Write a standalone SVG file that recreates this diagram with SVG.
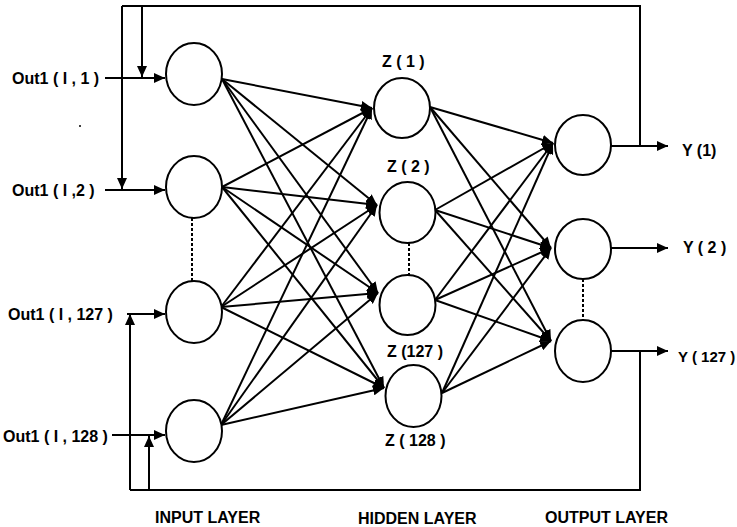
<svg xmlns="http://www.w3.org/2000/svg" width="737" height="527" viewBox="0 0 737 527">
<style>
.n{fill:#fff;stroke:#000;stroke-width:2}
.c{fill:none;stroke:#000;stroke-width:2}
.a{fill:none;stroke:#000;stroke-width:2;marker-end:url(#ah)}
.d{fill:none;stroke:#000;stroke-width:2;stroke-dasharray:3 2}
.t{font-family:"Liberation Sans",Arial,sans-serif;font-weight:bold;font-size:16px;fill:#000}
</style>
<defs>
<marker id="ah" markerUnits="userSpaceOnUse" markerWidth="12" markerHeight="10" refX="11" refY="5" orient="auto">
<path d="M0,0 L11,5 L0,10 z" fill="#000"/>
</marker>
</defs>
<rect width="737" height="527" fill="#fff"/>
<g id="connectors">
<line class="a" x1="105" y1="78" x2="165" y2="78"/>
<line class="a" x1="105" y1="190" x2="165" y2="190"/>
<line class="a" x1="127" y1="314" x2="165" y2="314"/>
<line class="a" x1="112" y1="435" x2="165" y2="435"/>
<polyline class="c" points="611,146 640,146 640,6 122,6"/>
<polyline class="a" points="122,6 122,189"/>
<polyline class="a" points="142,6 142,77"/>
<polyline class="c" points="611,351 640,351 640,490 130,490"/>
<polyline class="a" points="130,490 130,314"/>
<polyline class="a" points="149,490 149,436"/>
<line class="a" x1="611" y1="146" x2="668" y2="146"/>
<line class="a" x1="611" y1="248" x2="668" y2="248"/>
<line class="a" x1="611" y1="351" x2="668" y2="351"/>
<line class="a" x1="222" y1="79" x2="372" y2="108"/>
<line class="a" x1="222" y1="79" x2="377" y2="205"/>
<line class="a" x1="222" y1="79" x2="378" y2="293"/>
<line class="a" x1="222" y1="79" x2="384" y2="388"/>
<line class="a" x1="222" y1="187" x2="372" y2="108"/>
<line class="a" x1="222" y1="187" x2="377" y2="205"/>
<line class="a" x1="222" y1="187" x2="378" y2="293"/>
<line class="a" x1="222" y1="187" x2="384" y2="388"/>
<line class="a" x1="221" y1="307" x2="372" y2="108"/>
<line class="a" x1="221" y1="307" x2="377" y2="205"/>
<line class="a" x1="221" y1="307" x2="378" y2="293"/>
<line class="a" x1="221" y1="307" x2="384" y2="388"/>
<line class="a" x1="221" y1="425" x2="372" y2="108"/>
<line class="a" x1="221" y1="425" x2="377" y2="205"/>
<line class="a" x1="221" y1="425" x2="378" y2="293"/>
<line class="a" x1="221" y1="425" x2="384" y2="388"/>
<line class="a" x1="430" y1="107" x2="553" y2="143"/>
<line class="a" x1="430" y1="107" x2="551" y2="248"/>
<line class="a" x1="430" y1="107" x2="551" y2="341"/>
<line class="a" x1="435" y1="210" x2="553" y2="143"/>
<line class="a" x1="435" y1="210" x2="551" y2="248"/>
<line class="a" x1="435" y1="210" x2="551" y2="341"/>
<line class="a" x1="435" y1="300" x2="553" y2="143"/>
<line class="a" x1="435" y1="300" x2="551" y2="248"/>
<line class="a" x1="435" y1="300" x2="551" y2="341"/>
<line class="a" x1="442" y1="393" x2="553" y2="143"/>
<line class="a" x1="442" y1="393" x2="551" y2="248"/>
<line class="a" x1="442" y1="393" x2="551" y2="341"/>
<line class="d" x1="192" y1="218" x2="192" y2="281"/>
<line class="d" x1="409" y1="243" x2="409" y2="275"/>
<line class="d" x1="583" y1="279" x2="583" y2="320"/>
</g>
<g id="input1"><ellipse class="n" cx="194" cy="74" rx="28" ry="31"/><text class="t" x="12" y="84">Out1 ( I , 1 )</text></g>
<g id="input2"><ellipse class="n" cx="194" cy="187" rx="28" ry="31"/><text class="t" x="12" y="196">Out1 ( I ,2 )</text></g>
<g id="input127"><ellipse class="n" cx="194" cy="312" rx="28" ry="31"/><text class="t" x="8" y="320">Out1 ( I , 127 )</text></g>
<g id="input128"><ellipse class="n" cx="194" cy="431" rx="28" ry="31"/><text class="t" x="3" y="442">Out1 ( I , 128 )</text></g>
<g id="hidden1"><ellipse class="n" cx="402" cy="108" rx="28" ry="30"/><text class="t" x="382" y="67">Z ( 1 )</text></g>
<g id="hidden2"><ellipse class="n" cx="407.5" cy="212.5" rx="28" ry="30.5"/><text class="t" x="387" y="172">Z ( 2 )</text></g>
<g id="hidden127"><ellipse class="n" cx="407.5" cy="305" rx="28" ry="30"/><text class="t" x="387" y="357">Z (127 )</text></g>
<g id="hidden128"><ellipse class="n" cx="413.5" cy="396" rx="28" ry="31"/><text class="t" x="385" y="446">Z ( 128 )</text></g>
<g id="output1"><ellipse class="n" cx="583" cy="145" rx="28" ry="30"/><text class="t" x="682" y="156">Y (1)</text></g>
<g id="output2"><ellipse class="n" cx="583" cy="249" rx="28" ry="30"/><text class="t" x="683" y="253">Y ( 2 )</text></g>
<g id="output127"><ellipse class="n" cx="583" cy="351" rx="28" ry="31"/><text class="t" x="678" y="362" style="font-size:15px">Y ( 127 )</text></g>
<circle cx="80" cy="126" r="1" fill="#000"/>
<text class="t" x="155" y="523">INPUT LAYER</text>
<text class="t" x="358" y="524">HIDDEN LAYER</text>
<text class="t" x="545" y="523">OUTPUT LAYER</text>
</svg>
